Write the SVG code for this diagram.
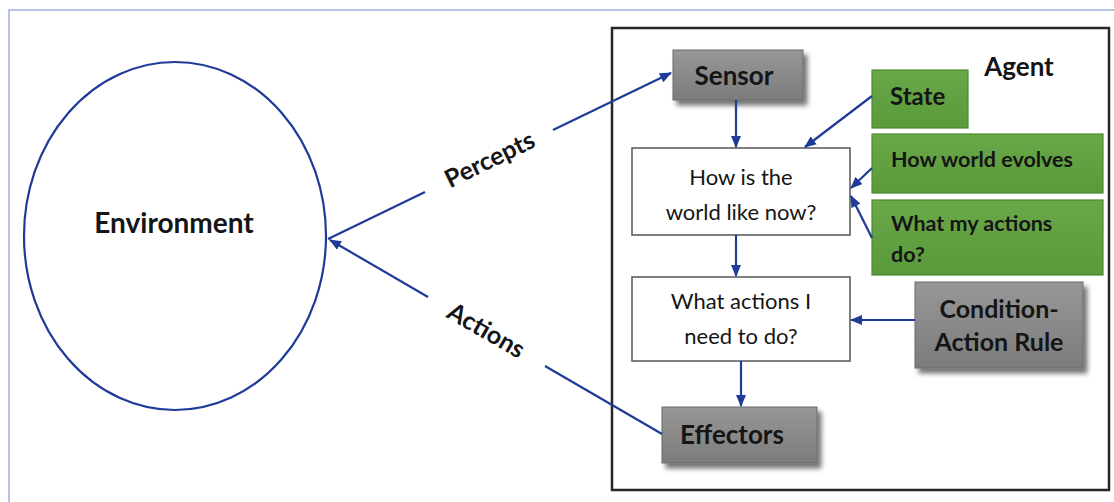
<svg xmlns="http://www.w3.org/2000/svg" width="1114" height="502" viewBox="0 0 1114 502">
<style>
.t{font-family:Lato,"Open Sans","Liberation Sans",sans-serif;fill:#151515}
.b{font-weight:bold}
.ln{stroke:#1f3b98;stroke-width:2.2;fill:none}
.gray{fill:url(#gg);stroke:#6a6a6a;stroke-width:1}
.green{fill:url(#gr);stroke:#4b8a2e;stroke-width:1.2}
.white{fill:#fff;stroke:#555;stroke-width:1.5}
</style>
<defs>
<linearGradient id="gg" x1="0" y1="0" x2="0" y2="1"><stop offset="0" stop-color="#979797"/><stop offset="1" stop-color="#7c7c7c"/></linearGradient>
<linearGradient id="gr" x1="0" y1="0" x2="0" y2="1"><stop offset="0" stop-color="#6aa84a"/><stop offset="1" stop-color="#5a9a3a"/></linearGradient>
<filter id="sh" x="-20%" y="-20%" width="150%" height="160%"><feGaussianBlur in="SourceAlpha" stdDeviation="2.5"/><feOffset dx="4" dy="5" result="o"/><feComponentTransfer><feFuncA type="linear" slope="0.55"/></feComponentTransfer><feMerge><feMergeNode/><feMergeNode in="SourceGraphic"/></feMerge></filter>
<marker id="ah" viewBox="0 0 12 10" refX="11" refY="5" markerWidth="12" markerHeight="10" markerUnits="userSpaceOnUse" orient="auto"><path d="M0,0L12,5L0,10z" fill="#1f3b98"/></marker>
</defs>
<rect x="0" y="0" width="1114" height="502" fill="#fff"/>
<path d="M9,502V10H1114" fill="none" stroke="#b7c3e3" stroke-width="2"/>

<g id="environment">
<ellipse cx="175" cy="236" rx="151" ry="174" fill="none" stroke="#1f3b98" stroke-width="2.2"/>
<text class="t b" x="174" y="233" font-size="28" text-anchor="middle">Environment</text>
</g>

<g id="agent">
<rect x="612" y="28" width="497" height="462" fill="#fff" stroke="#262626" stroke-width="2.5"/>
<text class="t b" x="1019" y="76" font-size="26" text-anchor="middle">Agent</text>
</g>

<g id="sensor">
<rect class="gray" x="673" y="50" width="130" height="50" filter="url(#sh)"/>
<text class="t b" x="734" y="85" font-size="26" text-anchor="middle">Sensor</text>
</g>

<g id="how-world-now">
<rect class="white" x="632" y="148" width="218" height="87"/>
<text class="t" x="741" y="185" font-size="22" text-anchor="middle">How is the</text>
<text class="t" x="741" y="220" font-size="22" text-anchor="middle">world like now?</text>
</g>

<g id="what-actions">
<rect class="white" x="632" y="277" width="218" height="84"/>
<text class="t" x="741" y="309" font-size="22" text-anchor="middle">What actions I</text>
<text class="t" x="741" y="344" font-size="22" text-anchor="middle">need to do?</text>
</g>

<g id="state">
<rect class="green" x="872" y="70" width="96" height="58"/>
<text class="t b" x="890" y="105" font-size="24">State</text>
</g>

<g id="how-world-evolves">
<rect class="green" x="872" y="134" width="231" height="59"/>
<text class="t b" x="891" y="167" font-size="21.5">How world evolves</text>
</g>

<g id="what-my-actions-do">
<rect class="green" x="872" y="200" width="231" height="75"/>
<text class="t b" x="891" y="231" font-size="21.5">What my actions</text>
<text class="t b" x="891" y="262" font-size="21.5">do?</text>
</g>

<g id="condition-action-rule">
<rect class="gray" x="915" y="282" width="168" height="86" filter="url(#sh)"/>
<text class="t b" x="999" y="318" font-size="25" text-anchor="middle">Condition-</text>
<text class="t b" x="999" y="351" font-size="25" text-anchor="middle">Action Rule</text>
</g>

<g id="effectors">
<rect class="gray" x="662" y="407" width="155" height="56" filter="url(#sh)"/>
<text class="t b" x="732" y="444" font-size="26" text-anchor="middle">Effectors</text>
</g>

<g id="connectors">
<path class="ln" d="M328,239L425,192" />
<path class="ln" d="M553,130L671,73" marker-end="url(#ah)"/>
<text class="t b" x="490" y="168" font-size="25" text-anchor="middle" transform="rotate(-26 490 160)">Percepts</text>
<path class="ln" d="M662,434L545,366"/>
<path class="ln" d="M428,297L330,240" marker-end="url(#ah)"/>
<text class="t b" x="486" y="339" font-size="25" text-anchor="middle" transform="rotate(30 486 331)">Actions</text>
<path class="ln" d="M736,100V147" marker-end="url(#ah)"/>
<path class="ln" d="M872,96L805,147" marker-end="url(#ah)"/>
<path class="ln" d="M872,168L851,188" marker-end="url(#ah)"/>
<path class="ln" d="M872,238L851,196" marker-end="url(#ah)"/>
<path class="ln" d="M736,235V276" marker-end="url(#ah)"/>
<path class="ln" d="M915,320H851" marker-end="url(#ah)"/>
<path class="ln" d="M741,361V406" marker-end="url(#ah)"/>
</g>
</svg>
